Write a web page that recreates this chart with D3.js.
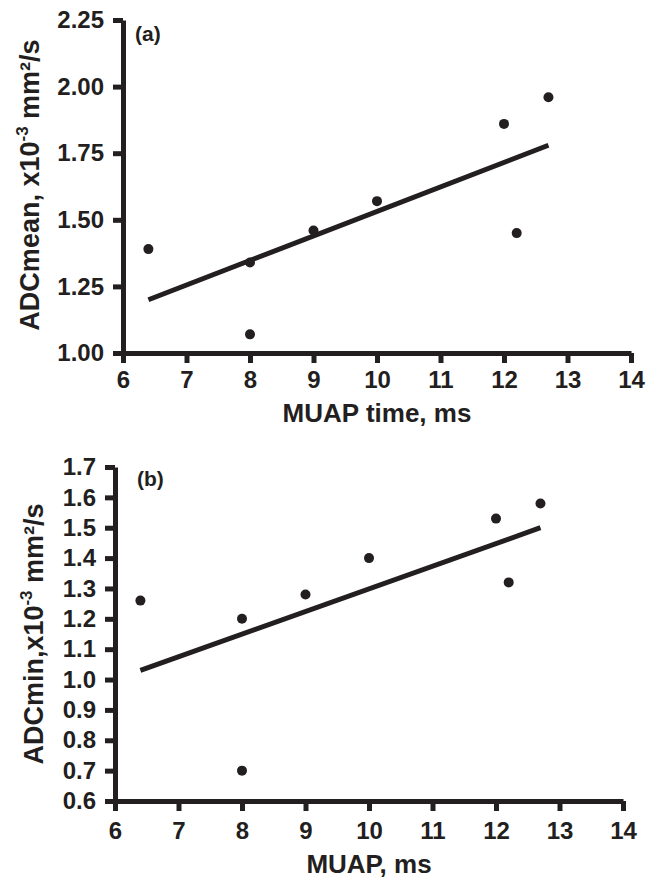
<!DOCTYPE html>
<html>
<head>
<meta charset="utf-8">
<script src="https://cdn.jsdelivr.net/npm/d3@7"></script>
<style>
  body { margin: 0; background: #fff; }
  svg text { font-family: "Liberation Sans", Arial, sans-serif; font-weight: 700; fill: #231f20; }
  .axis path, .axis line { stroke: #231f20; stroke-width: 5px; }
  .axis text { font-size: 24px; }
</style>
</head>
<body>
<svg id="chart" width="646" height="882"></svg>
<script>
// values
const muapTime = [6.4, 8, 8, 9, 10, 12, 12.2, 12.7];
const adcMean = [1.39, 1.07, 1.34, 1.46, 1.57, 1.86, 1.45, 1.96];
const fitMeanX = [6.4, 12.7];
const fitMeanY = [1.20, 1.78];

const muap = [6.4, 8, 8, 9, 10, 12, 12.2, 12.7];
const adcMin = [1.26, 0.70, 1.20, 1.28, 1.40, 1.53, 1.32, 1.58];
const fitMinX = [6.4, 12.7];
const fitMinY = [1.03, 1.50];

const xTicks = [6, 7, 8, 9, 10, 11, 12, 13, 14];
const yTicksMean = [1.00, 1.25, 1.50, 1.75, 2.00, 2.25];
const yTicksMin = [0.6, 0.7, 0.8, 0.9, 1.0, 1.1, 1.2, 1.3, 1.4, 1.5, 1.6, 1.7];

const ink = "#231f20";
const svg = d3.select("#chart");

function styleAxis(a) {
  a.attr("class", "axis").attr("font-size", null).attr("font-family", null);
}

function panel({xs, ys, fx, fy, xRange, yRange, yDomain, yTicks, yFormat, xPad, tag, tagPos,
                xTitle, xTitleY, yTitleMain, yTitleEnd, yTitleX, yTitleY}) {
  const x = d3.scaleLinear([6, 14], xRange);
  const y = d3.scaleLinear(yDomain, yRange);
  const g = svg.append("g");

  const xAxis = d3.axisBottom(x).tickValues(xTicks).tickFormat(d3.format("d"))
    .tickSize(10).tickSizeOuter(0).tickPadding(xPad);
  const yAxis = d3.axisLeft(y).tickValues(yTicks).tickFormat(d3.format(yFormat))
    .tickSize(10).tickSizeOuter(0).tickPadding(9);

  g.append("g")
    .attr("transform", `translate(0,${yRange[0]})`)
    .call(xAxis)
    .call(styleAxis);

  g.append("g")
    .attr("transform", `translate(${xRange[0]},0)`)
    .call(yAxis)
    .call(styleAxis);

  g.append("line")
    .attr("x1", x(fx[0])).attr("y1", y(fy[0]))
    .attr("x2", x(fx[1])).attr("y2", y(fy[1]))
    .attr("stroke", ink).attr("stroke-width", 5);

  g.append("g").selectAll("circle")
    .data(xs)
    .join("circle")
    .attr("cx", d => x(d))
    .attr("cy", (d, i) => y(ys[i]))
    .attr("r", 5)
    .attr("fill", ink);

  g.append("text")
    .attr("x", tagPos[0]).attr("y", tagPos[1])
    .attr("font-size", 21)
    .text(tag);

  g.append("text")
    .attr("x", (xRange[0] + xRange[1]) / 2)
    .attr("y", xTitleY)
    .attr("text-anchor", "middle")
    .attr("font-size", 26)
    .text(xTitle);

  const yt = g.append("text")
    .attr("transform", `translate(${yTitleX},${yTitleY}) rotate(-90)`)
    .attr("text-anchor", "middle")
    .attr("font-size", 27);
  yt.append("tspan").text(yTitleMain);
  yt.append("tspan").attr("dy", -11).attr("font-size", 17).text("-3");
  yt.append("tspan").attr("dy", 11).text(yTitleEnd);
}

panel({
  xs: muapTime, ys: adcMean, fx: fitMeanX, fy: fitMeanY,
  xRange: [123, 631], yRange: [353, 20], yDomain: [1.00, 2.25],
  yTicks: yTicksMean, yFormat: ".2f", xPad: 8,
  tag: "(a)", tagPos: [135, 41],
  xTitle: "MUAP time, ms", xTitleY: 422,
  yTitleMain: "ADCmean, x10", yTitleEnd: " mm²/s", yTitleX: 39, yTitleY: 185
});

panel({
  xs: muap, ys: adcMin, fx: fitMinX, fy: fitMinY,
  xRange: [115, 623], yRange: [801, 467], yDomain: [0.6, 1.7],
  yTicks: yTicksMin, yFormat: ".1f", xPad: 11,
  tag: "(b)", tagPos: [137, 486],
  xTitle: "MUAP, ms", xTitleY: 873,
  yTitleMain: "ADCmin,x10", yTitleEnd: " mm²/s", yTitleX: 43, yTitleY: 634
});
</script>
</body>
</html>
